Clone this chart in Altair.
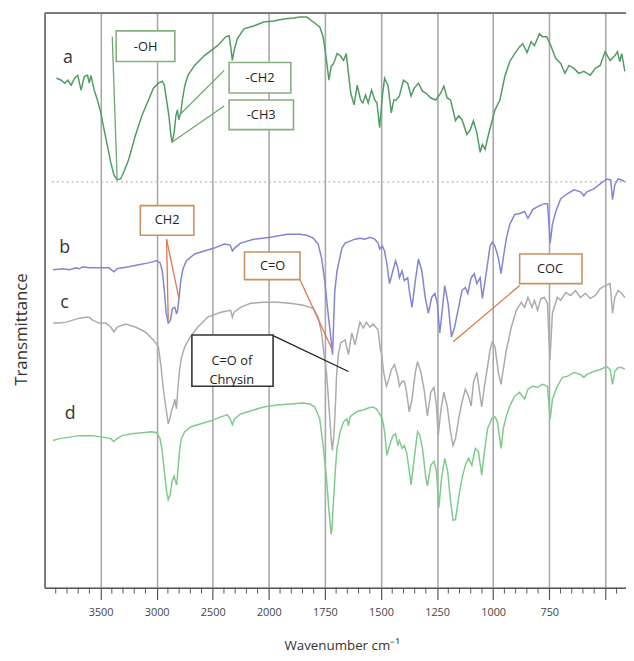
import altair as alt
import pandas as pd

# ---------------- data (wavenumber cm-1, transmittance in arbitrary offset units) ----------------
SPEC_A = [(3894,516),(3850,514),(3821,511),(3792,514),(3762,509),(3733,516),(3704,519),(3674,504),(3645,518),
          (3616,519),(3601,511),(3586,519),(3557,504),(3528,494),(3498,481),(3469,464),(3440,448),(3410,431),
          (3381,418),(3352,413),(3322,414),(3293,421),(3249,434),(3190,458),(3132,478),(3073,494),(3029,506),
          (2985,511),(2950,513),(2932,509),(2912,494),(2891,478),(2873,458),(2862,451),(2844,461),(2829,478),
          (2815,484),(2803,474),(2785,481),(2771,494),(2750,508),(2721,519),(2662,529),(2574,539),(2457,549),
          (2384,558),(2354,559),(2340,548),(2325,534),(2310,544),(2281,556),(2222,566),(2134,569),(2046,573),
          (1978,574),(1934,576),(1890,577),(1861,578),(1831,578),(1802,573),(1773,568),(1758,558),(1751,548),
          (1743,534),(1732,514),(1722,528),(1711,531),(1696,541),(1682,539),(1667,534),(1655,541),(1645,521),
          (1635,501),(1620,489),(1606,509),(1591,494),(1581,491),(1569,499),(1557,491),(1542,504),(1528,494),
          (1518,491),(1506,466),(1494,498),(1484,516),(1469,509),(1454,481),(1443,494),(1432,494),(1418,498),
          (1400,514),(1381,511),(1366,498),(1352,506),(1333,511),(1315,503),(1300,501),(1278,496),(1256,494),
          (1234,501),(1220,508),(1205,496),(1190,494),(1168,473),(1154,478),(1139,474),(1117,459),(1102,464),
          (1088,473),(1073,461),(1058,441),(1048,449),(1036,444),(1022,458),(1007,471),(992,484),(970,494),
          (948,518),(926,533),(904,541),(882,548),(868,551),(849,542),(831,553),(816,549),(794,561),(780,558),
          (761,558),(743,549),(721,536),(699,531),(680,521),(662,529),(640,526),(618,521),(596,523),(567,519),
          (545,526),(523,529),(501,543),(479,534),(457,539),(446,543),(436,533),(427,541),(413,523)]

SPEC_B = [(3924,322),(3836,323),(3777,322),(3718,324),(3689,323),(3660,325),(3601,324),(3513,324),(3425,324),
          (3381,320),(3352,323),(3249,325),(3161,327),(3073,329),(3000,331),(2970,329),(2950,321),(2932,301),
          (2915,278),(2897,268),(2877,271),(2859,283),(2838,284),(2824,278),(2815,279),(2803,291),(2785,311),
          (2765,323),(2736,331),(2662,338),(2574,341),(2486,344),(2398,348),(2345,347),(2325,341),(2305,344),
          (2252,349),(2134,353),(1993,355),(1919,358),(1861,358),(1831,357),(1802,354),(1780,348),(1765,334),
          (1751,311),(1736,278),(1722,250),(1716,236),(1711,270),(1706,300),(1696,321),(1674,344),(1660,349),
          (1638,351),(1616,353),(1594,354),(1572,353),(1550,355),(1528,353),(1513,349),(1506,343),(1494,346),
          (1484,341),(1474,328),(1462,308),(1447,321),(1435,331),(1425,324),(1418,314),(1406,321),(1396,311),
          (1381,314),(1374,301),(1362,284),(1347,311),(1333,333),(1318,321),(1303,294),(1289,278),(1274,294),
          (1260,298),(1249,288),(1238,258),(1227,281),(1216,306),(1201,288),(1186,254),(1172,264),(1154,284),
          (1139,301),(1124,304),(1113,298),(1098,314),(1084,318),(1073,308),(1058,314),(1048,293),(1036,311),
          (1025,328),(1014,346),(1004,350),(992,346),(977,334),(965,318),(955,334),(941,354),(926,368),(904,378),
          (882,379),(860,381),(845,374),(824,383),(802,386),(772,389),(758,389),(753,374),(746,349),(736,368),
          (721,381),(699,394),(670,399),(640,403),(611,401),(596,397),(582,401),(552,404),(523,409),(494,414),
          (476,413),(468,393),(458,408),(443,414),(427,413),(413,411)]

SPEC_C = [(3924,268),(3865,268),(3806,269),(3748,271),(3689,273),(3630,274),(3601,274),(3572,271),(3513,268),
          (3454,268),(3410,264),(3381,259),(3352,264),(3278,267),(3190,264),(3102,259),(3029,251),(2985,244),
          (2961,224),(2941,201),(2912,178),(2897,166),(2882,171),(2868,179),(2853,184),(2838,191),(2824,181),
          (2809,205),(2794,222),(2781,232),(2750,244),(2706,253),(2633,264),(2545,274),(2428,279),(2340,281),
          (2325,274),(2310,279),(2252,284),(2164,288),(2046,289),(1963,289),(1905,288),(1846,286),(1802,283),
          (1780,274),(1765,258),(1755,238),(1743,218),(1732,184),(1722,151),(1717,139),(1710,154),(1704,180),
          (1698,215),(1690,236),(1680,248),(1660,251),(1645,236),(1630,258),(1616,246),(1594,269),(1579,263),
          (1565,269),(1550,264),(1535,267),(1513,261),(1503,241),(1498,238),(1488,218),(1476,204),(1465,211),
          (1454,221),(1440,226),(1425,214),(1418,204),(1406,209),(1396,209),(1388,201),(1374,178),(1362,191),
          (1347,218),(1337,229),(1322,218),(1308,201),(1293,174),(1278,198),(1264,203),(1253,184),(1245,154),
          (1234,178),(1220,198),(1205,184),(1190,158),(1179,144),(1168,151),(1154,171),(1139,188),(1124,201),
          (1110,194),(1098,184),(1088,208),(1073,218),(1058,194),(1051,183),(1039,204),(1025,224),(1014,241),
          (1004,249),(992,244),(977,218),(965,206),(955,221),(941,241),(919,264),(897,281),(875,289),(860,284),
          (845,294),(827,284),(816,291),(802,281),(787,293),(772,294),(758,288),(747,231),(736,278),(714,294),
          (699,291),(677,299),(655,296),(633,301),(611,294),(589,298),(567,293),(545,296),(523,303),(501,306),
          (479,308),(468,278),(458,294),(443,301),(427,298),(413,294)]

SPEC_D = [(3924,149),(3865,151),(3806,152),(3748,153),(3689,154),(3630,154),(3572,154),(3513,153),(3454,152),
          (3410,151),(3381,148),(3366,150),(3308,154),(3220,156),(3132,157),(3044,158),(3000,157),(2970,151),
          (2950,138),(2932,118),(2912,98),(2897,89),(2880,94),(2862,108),(2844,113),(2833,108),(2821,104),
          (2809,121),(2794,141),(2780,151),(2750,158),(2692,163),(2604,166),(2516,169),(2428,173),(2369,175),
          (2345,171),(2325,165),(2305,171),(2252,176),(2164,179),(2046,183),(1963,185),(1905,186),(1846,187),
          (1817,186),(1795,183),(1773,171),(1758,144),(1743,111),(1732,78),(1722,54),(1719,58),(1711,91),
          (1704,118),(1696,141),(1682,158),(1667,168),(1652,171),(1645,164),(1638,173),(1623,176),(1601,179),
          (1579,180),(1557,182),(1535,183),(1520,181),(1506,176),(1494,171),(1484,158),(1474,134),(1462,144),
          (1447,154),(1435,156),(1425,144),(1418,149),(1406,141),(1396,144),(1385,136),(1374,118),(1366,104),
          (1352,131),(1337,158),(1327,154),(1315,141),(1300,111),(1293,103),(1278,124),(1264,128),(1253,118),
          (1242,81),(1230,111),(1216,131),(1203,118),(1190,88),(1179,68),(1168,69),(1154,91),(1139,111),
          (1124,124),(1110,131),(1095,124),(1080,141),(1066,138),(1051,114),(1039,138),(1025,161),(1007,171),
          (992,173),(981,168),(965,141),(955,161),(941,174),(926,184),(904,194),(882,198),(860,191),(845,201),
          (824,204),(802,203),(780,206),(758,204),(746,171),(736,191),(714,204),(692,213),(670,214),(640,218),
          (611,216),(596,213),(582,216),(552,219),(523,221),(494,224),(479,221),(468,206),(458,219),(443,223),
          (427,223),(413,221)]

SERIES = ["a", "b", "c", "d"]
SERIES_COLORS = ["#509c63", "#8284d4", "#ababab", "#7fca8d"]

MAJOR_TICKS = [3500, 3000, 2500, 2000, 1750, 1500, 1250, 1000, 750, 500]
MINOR_TICKS = ([w for w in range(3900, 2000, -100) if w not in (3500, 3000, 2500)] +
               [w for w in range(1950, 400, -50) if w not in (1750, 1500, 1250, 1000, 750, 500)])

# annotation boxes: text, x range (cm-1), y range, centre, colour
BOXES = pd.DataFrame([
    dict(t="-OH", x1=3361, x2=2838, y1=564, y2=533, tx=3099, ty=548, c="#86b07e"),
    dict(t="-CH2", x1=2354, x2=1902, y1=532, y2=501, tx=2078, ty=516, c="#86b07e"),
    dict(t="-CH3", x1=2354, x2=1890, y1=494, y2=464, tx=2068, ty=479, c="#86b07e"),
    dict(t="CH2", x1=3146, x2=2668, y1=387, y2=357, tx=2906, ty=372, c="#c9915f"),
    dict(t="C=O", x1=2217, x2=1861, y1=340, y2=312, tx=1983, ty=326, c="#c9915f"),
    dict(t="COC", x1=882, x2=604, y1=338, y2=308, tx=747, ty=323, c="#c9915f"),
    dict(t="C=O of\nChrysin", x1=2686, x2=1981, y1=256, y2=204, tx=2330, ty=230, c="#333333"),
])

LEADERS = pd.DataFrame([
    dict(x1=3396, y1=558, x2=3352, y2=413, c="#6fa66d"),
    dict(x1=2398, y1=524, x2=2794, y2=479, c="#6fa66d"),
    dict(x1=2398, y1=488, x2=2868, y2=451, c="#6fa66d"),
    dict(x1=2912, y1=353, x2=2897, y2=271, c="#d9784e"),
    dict(x1=2912, y1=353, x2=2803, y2=294, c="#d9784e"),
    dict(x1=1861, y1=312, x2=1717, y2=241, c="#d9784e"),
    dict(x1=882, y1=306, x2=1178, y2=249, c="#d9784e"),
    dict(x1=1988, y1=256, x2=1645, y2=219, c="#222222"),
])

LETTERS = pd.DataFrame(dict(t=["a", "b", "c", "d"], x=[3792, 3821, 3821, 3771], y=[536, 344, 288, 176]))
DIVIDER = pd.DataFrame(dict(x1=[3935], x2=[408], y=[411]))

# ---------------- chart ----------------
W, H = 589, 582
FONT = "Open Sans"

X_SCALE = alt.Scale(domain=[4000, 2000, 408], range=[0, 227.2, W], nice=False, zero=False)
Y_SCALE = alt.Scale(domain=[0, H], nice=False, zero=False)

X_AXIS = alt.Axis(
    values=MAJOR_TICKS, format="d",
    labelExpr="datum.value == 500 ? '' : datum.label",
    grid=True, gridColor="#a9a9a9", gridWidth=1.6,
    tickSize=12, tickColor="#555555", tickWidth=1.2,
    domainColor="#555555", domainWidth=1.5,
    labelFont=FONT, labelFontSize=11, labelColor="#444444", labelPadding=7,
    title="Wavenumber cm⁻¹", titleFont=FONT, titleFontSize=13.5, titleFontWeight="normal",
    titleColor="#333333", titlePadding=22, titleX=301, titleAlign="center")

Y_AXIS = alt.Axis(
    labels=False, ticks=False, grid=False, domain=True,
    domainColor="#555555", domainWidth=1.5,
    title="Transmittance", titleFont=FONT, titleFontSize=17, titleFontWeight="normal",
    titleColor="#333333", titleAngle=270, titleAlign="center", titleBaseline="middle",
    titleX=-23, titleY=320)


def xenc(field):
    return alt.X(field, type="quantitative", scale=X_SCALE, axis=X_AXIS)


def yenc(field):
    return alt.Y(field, type="quantitative", scale=Y_SCALE, axis=Y_AXIS)


rows = []
for name, spec in zip(SERIES, [SPEC_A, SPEC_B, SPEC_C, SPEC_D]):
    for wn, v in spec:
        rows.append(dict(series=name, wn=wn, v=v))
spectra = pd.DataFrame(rows)

lines = alt.Chart(spectra).mark_line(strokeWidth=1.5, clip=True).encode(
    x=xenc("wn"),
    y=yenc("v"),
    color=alt.Color("series:N", scale=alt.Scale(domain=SERIES, range=SERIES_COLORS), legend=None),
    detail="series:N",
)

minor = alt.Chart(pd.DataFrame(dict(wn=MINOR_TICKS))).mark_rule(color="#555555", strokeWidth=1).encode(
    x=xenc("wn"),
    y=alt.value(H), y2=alt.value(H + 6),
)

top_border = alt.Chart(pd.DataFrame(dict(k=[0]))).mark_rule(color="#555555", strokeWidth=1.5).encode(
    x=alt.value(0), x2=alt.value(W), y=alt.value(0),
)

divider = alt.Chart(DIVIDER).mark_rule(color="#b5b5b5", strokeWidth=1.2, strokeDash=[2, 3]).encode(
    x=xenc("x1"), x2="x2:Q",
    y=yenc("y"),
)

leaders = alt.Chart(LEADERS).mark_rule(strokeWidth=1.3).encode(
    x=xenc("x1"), x2="x2:Q",
    y=yenc("y1"), y2="y2:Q",
    color=alt.Color("c:N", scale=None),
)

boxes = alt.Chart(BOXES).mark_rect(fill="white", strokeWidth=1.6).encode(
    x=xenc("x1"), x2="x2:Q",
    y=yenc("y1"), y2="y2:Q",
    stroke=alt.Color("c:N", scale=None),
)

box_text = alt.Chart(BOXES).mark_text(font=FONT, fontSize=13, color="#222222", lineBreak="\n",
                                      lineHeight=20, baseline="middle").encode(
    x=xenc("tx"),
    y=yenc("ty"),
    text="t:N",
)

letters = alt.Chart(LETTERS).mark_text(font=FONT, fontSize=18, color="#333333", baseline="middle").encode(
    x=xenc("x"),
    y=yenc("y"),
    text="t:N",
)

chart = alt.layer(lines, minor, top_border, divider, leaders, boxes, box_text, letters).properties(
    width=W, height=H,
    padding={"left": 37, "top": 1, "right": 0, "bottom": 62},
    autosize=alt.AutoSizeParams(type="none"),
).configure_view(stroke=None).configure(background="white")

chart.save("out.html", embed_options={"renderer": "svg", "actions": False})
